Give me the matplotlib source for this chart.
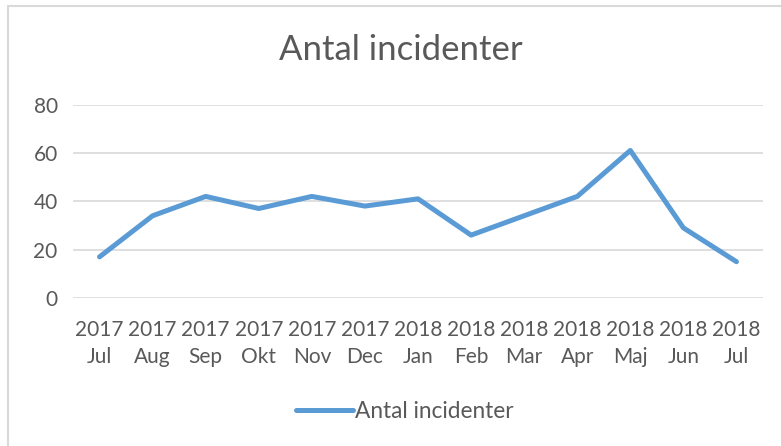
import matplotlib
matplotlib.use("Agg")
import matplotlib.pyplot as plt
from matplotlib.patches import Rectangle

# Data
years = ["2017", "2017", "2017", "2017", "2017", "2017",
         "2018", "2018", "2018", "2018", "2018", "2018", "2018"]
months = ["Jul", "Aug", "Sep", "Okt", "Nov", "Dec",
          "Jan", "Feb", "Mar", "Apr", "Maj", "Jun", "Jul"]
incidents = [17, 34, 42, 37, 42, 38, 41, 26, 34, 42, 61, 29, 15]
y_ticks = [0, 20, 40, 60, 80]

text_color = "#595959"
line_color = "#5B9BD5"
grid_color = "#D9D9D9"

plt.rcParams["font.family"] = ["Lato", "DejaVu Sans"]

W, H = 781, 446
fig = plt.figure(figsize=(W / 100, H / 100), dpi=100)

# Chart frame (only top and left edges fall inside the picture)
fig.patches.append(
    Rectangle((8 / W, -0.1), 1.2, 1 - 5.5 / H + 0.1, transform=fig.transFigure,
              fill=False, edgecolor=grid_color, linewidth=1.5)
)

ax = fig.add_axes([73 / W, 1 - 298 / H, (763 - 73) / W, (298 - 104.5) / H])

x = list(range(len(incidents)))
ax.plot(x, incidents, color=line_color, linewidth=3.6,
        solid_capstyle="round", solid_joinstyle="round",
        label="Antal incidenter", zorder=3)

ax.set_xlim(-0.5, len(incidents) - 0.5)
ax.set_ylim(0, 80)
ax.set_yticks(y_ticks)
ax.set_xticks(x)
ax.set_xticklabels([f"{y}\n{m}" for y, m in zip(years, months)],
                   linespacing=1.45)

ax.yaxis.grid(True, color=grid_color, linewidth=1.2)
ax.set_axisbelow(True)
for s in ax.spines.values():
    s.set_visible(False)
ax.tick_params(axis="both", length=0, colors=text_color, labelsize=15)
ax.tick_params(axis="y", pad=11)
ax.tick_params(axis="x", pad=16)

fig.text(400.5 / W, 1 - 50 / H, "Antal incidenter", ha="center", va="center",
         fontsize=25, color=text_color)

leg = fig.legend(loc="center", bbox_to_anchor=(404.5 / W, 1 - 411 / H),
                 frameon=False, fontsize=16.3, handlelength=2.55,
                 handletextpad=0.05, labelcolor=text_color)

fig.savefig("out.png", dpi=100)
